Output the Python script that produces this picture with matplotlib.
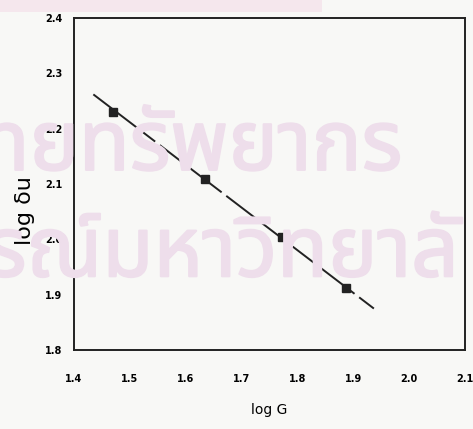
import matplotlib
matplotlib.use("Agg")
import matplotlib.pyplot as plt
import matplotlib.patheffects as pe
from matplotlib.patches import Rectangle

# points
log_g = [1.470, 1.635, 1.772, 1.888]
log_du = [2.231, 2.109, 2.005, 1.913]

# fitted line end points
fit_x = [1.435, 1.937]
fit_y = [2.262, 1.875]

x_ticks = [1.4, 1.5, 1.6, 1.7, 1.8, 1.9, 2.0, 2.1]
x_labels = ["1.4", "1.5", "1.6", "1.7", "1.8", "1.9", "2.0", "2.1"]
y_ticks = [1.8, 1.9, 2.0, 2.1, 2.2, 2.3, 2.4]
y_labels = ["1.8", "1.9", "2.0", "2.1", "2.2", "2.3", "2.4"]

watermark = ["ทยทรัพยากร", "รณ์มหาวิทยาลั"]

fig = plt.figure(figsize=(4.73, 4.29), dpi=100, facecolor="#f8f8f6")
ax = fig.add_axes([0.156, 0.184, 0.827, 0.774])

# faint pink band left over at the top of the scan
fig.patches.append(Rectangle((0, 0.972), 0.68, 0.028, transform=fig.transFigure,
                             color="#f5e7ed", zorder=0, lw=0))

# watermark behind the data, thickened a little with a stroke of the same colour
wm_font = ["Noto Sans Thai", "Noto Sans", "DejaVu Sans"]
wm_col = "#eedeeb"
wm_fx = [pe.withStroke(linewidth=1.5, foreground=wm_col)]
fig.text(-0.045, 0.604, watermark[0], color=wm_col, fontsize=60,
         ha="left", va="baseline", zorder=0, family=wm_font, path_effects=wm_fx)
fig.text(-0.03, 0.356, watermark[1], color=wm_col, fontsize=60,
         ha="left", va="baseline", zorder=0, family=wm_font, path_effects=wm_fx)

ax.plot(fit_x, fit_y, color="#222222", lw=1.4, dashes=(40, 3), zorder=2)
ax.plot(log_g, log_du, ls="none", marker="s", ms=5.5, color="#222222", zorder=3)

ax.set_xlim(1.4, 2.1)
ax.set_ylim(1.8, 2.4)
ax.set_xticks(x_ticks)
ax.set_xticklabels(x_labels, fontsize=7, fontweight="bold")
ax.set_yticks(y_ticks)
ax.set_yticklabels(y_labels, fontsize=7, fontweight="bold")
ax.tick_params(axis="x", length=0, pad=17)
ax.tick_params(axis="y", length=0, pad=8)

for sp in ax.spines.values():
    sp.set_linewidth(1.4)
    sp.set_color("#222222")

ax.set_xlabel("log G", fontsize=10, labelpad=14)
ax.set_ylabel("log δu", fontsize=16)
ax.yaxis.set_label_coords(-0.10, 0.42)
ax.patch.set_alpha(0)

fig.savefig("out.png", dpi=100, facecolor=fig.get_facecolor())
